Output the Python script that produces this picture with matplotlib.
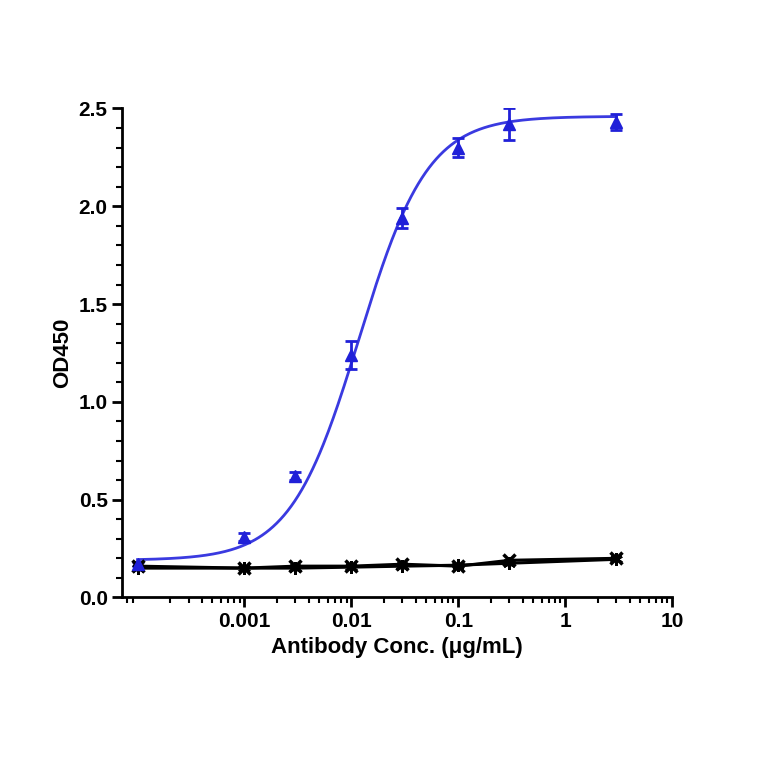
import numpy as np
import matplotlib
matplotlib.use("Agg")
import matplotlib.pyplot as plt

conc = [0.0001, 0.001, 0.003, 0.01, 0.03, 0.1, 0.3, 3.0]
blue = [0.17, 0.31, 0.62, 1.24, 1.94, 2.30, 2.42, 2.43]
blue_err = [0.01, 0.02, 0.02, 0.07, 0.05, 0.05, 0.08, 0.04]
black1 = [0.16, 0.15, 0.16, 0.16, 0.17, 0.16, 0.19, 0.20]
black2 = [0.15, 0.15, 0.15, 0.155, 0.16, 0.165, 0.175, 0.195]
fit_params = dict(bottom=0.19, top=2.46, ec50=0.0118, hill=1.35)

plt.rcParams['font.family'] = ['Liberation Sans', 'DejaVu Sans']
plt.rcParams['font.weight'] = 'bold'
fig = plt.figure(figsize=(7.64, 7.64), dpi=100)
ax = fig.add_axes([0.16, 0.218, 0.72, 0.64])

xs = np.logspace(np.log10(0.0001), np.log10(3.0), 400)
p = fit_params
ys = p['bottom'] + (p['top'] - p['bottom']) / (1 + (p['ec50'] / xs) ** p['hill'])
ax.plot(xs, ys, color='#3a3ae0', lw=2)
ax.errorbar(conc, blue, yerr=blue_err, fmt='^', color='#2020d8', ms=8, capsize=4, elinewidth=2, capthick=2)
ax.plot(conc, black1, color='black', lw=2.2, marker='x', ms=9, mew=2.5)
ax.plot(conc, black2, color='black', lw=2.2, marker=(6, 2, 0), ms=9, mew=2)

ax.set_xscale('log')
ax.set_xlim(7.2e-5, 10)
ax.set_ylim(0, 2.5)
ax.set_xticks([0.001, 0.01, 0.1, 1, 10])
ax.set_xticklabels(['0.001', '0.01', '0.1', '1', '10'])
ax.set_yticks([0, 0.5, 1.0, 1.5, 2.0, 2.5])
ax.set_yticklabels(['0.0', '0.5', '1.0', '1.5', '2.0', '2.5'])
ax.yaxis.set_minor_locator(matplotlib.ticker.MultipleLocator(0.1))
for s in ['top', 'right']:
    ax.spines[s].set_visible(False)
for s in ['left', 'bottom']:
    ax.spines[s].set_linewidth(2)
ax.tick_params(which='major', width=2, length=7, labelsize=15)
ax.tick_params(which='minor', width=1.5, length=4)
ax.set_xlabel('Antibody Conc. (μg/mL)', fontsize=16, fontweight='bold')
ax.set_ylabel('OD450', fontsize=16, fontweight='bold')
fig.savefig('out.png', dpi=100)
